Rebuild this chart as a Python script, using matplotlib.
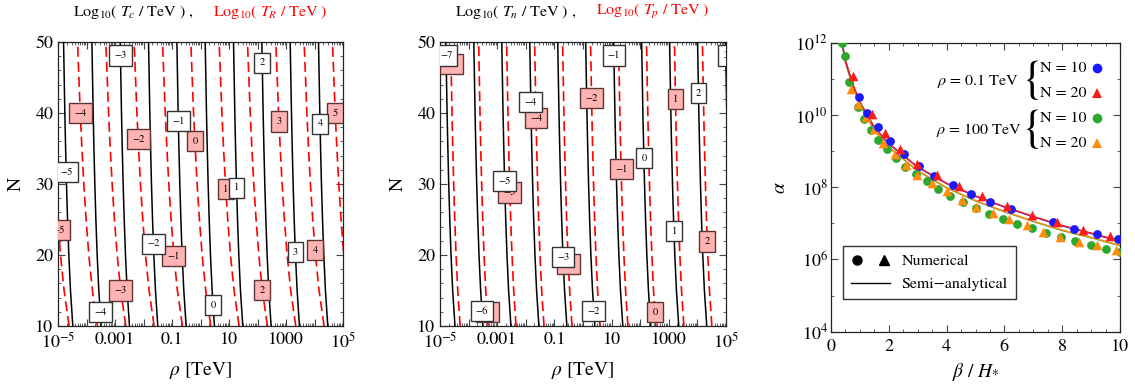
import numpy as np
import matplotlib
matplotlib.use("Agg")
import matplotlib.pyplot as plt
from matplotlib.ticker import FixedLocator, LogLocator, MultipleLocator, NullFormatter
from matplotlib.lines import Line2D
from matplotlib.legend_handler import HandlerTuple

plt.rcParams["font.family"] = "STIXGeneral"
plt.rcParams["mathtext.fontset"] = "stix"

# ---- contour panels: log10(rho) = slope * level + shift(N)
n_nodes = [10, 15, 20, 25, 30, 35, 40, 50]
tc_shift = [0.49, 0.408, 0.35, 0.305, 0.268, 0.237, 0.21, 0.165]
tr_shift = [0.36, 0.184, 0.058, -0.038, -0.118, -0.185, -0.243, -0.34]
tn_shift = [2.37, 2.289, 2.232, 2.188, 2.151, 2.121, 2.094, 2.05]
tp_shift = [2.55, 2.467, 2.408, 2.362, 2.325, 2.293, 2.266, 2.22]
slope_1 = 0.994
slope_2 = 0.978

tc_levels = list(range(-6, 6))
tr_levels = list(range(-6, 7))
tn_levels = list(range(-8, 4))
tp_levels = list(range(-8, 4))

# N at which each contour label sits
tc_label_n = {-5: 31.7, -4: 12.0, -3: 48.1, -2: 21.6, -1: 38.9, 0: 12.9,
              1: 29.5, 2: 47.1, 3: 20.4, 4: 38.5}
tr_label_n = {-5: 23.5, -4: 40.0, -3: 15.0, -2: 36.3, -1: 19.9, 0: 36.0,
              1: 29.3, 2: 15.1, 3: 38.8, 4: 20.7, 5: 40.0}
tn_label_n = {-7: 48.1, -6: 12.1, -5: 30.4, -4: 41.5, -3: 19.7, -2: 12.1,
              -1: 48.1, 0: 33.6, 1: 23.4, 2: 42.8, 3: 48.1}
tp_label_n = {-7: 46.9, -6: 12.0, -5: 28.8, -4: 39.3, -3: 18.7, -2: 42.1,
              -1: 32.1, 0: 12.0, 1: 42.0, 2: 21.9}

# ---- alpha vs beta/H panel (log10 alpha)
beta_b = [0.97, 1.26, 1.64, 2.04, 2.53, 3.06, 3.56, 4.21, 4.84, 5.50, 6.22, 7.67, 8.41, 9.19, 9.94]
la_b = [10.485, 10.053, 9.654, 9.266, 8.925, 8.593, 8.316, 8.066, 7.817, 7.60, 7.39, 7.033, 6.85, 6.70, 6.557]
beta_r = [0.75, 1.41, 1.87, 2.39, 2.99, 3.68, 4.43, 5.23, 6.08, 6.94, 7.81, 8.71, 9.65]
la_r = [11.086, 10.025, 9.50, 9.06, 8.64, 8.34, 8.02, 7.75, 7.47, 7.24, 7.03, 6.82, 6.66]
beta_g = [0.38, 0.48, 0.63, 0.94, 1.14, 1.38, 1.64, 1.93, 2.24, 2.56, 2.93, 3.33, 3.71,
          4.13, 4.58, 5.02, 5.48, 5.94, 6.45, 6.94, 7.44, 7.95, 8.44, 8.99, 9.52, 10.0]
la_g = [12.0, 11.64, 10.90, 10.21, 9.895, 9.59, 9.31, 9.06, 8.81, 8.57, 8.37, 8.16, 7.95,
        7.765, 7.58, 7.42, 7.26, 7.12, 6.99, 6.87, 6.73, 6.61, 6.52, 6.40, 6.29, 6.22]
beta_o = [0.68, 0.94, 1.21, 1.50, 1.81, 2.21, 2.58, 2.97, 3.48, 4.0, 4.52, 5.02, 5.60,
          6.17, 6.77, 7.34, 7.94, 8.59, 9.21, 9.86]
la_o = [10.72, 10.31, 9.94, 9.61, 9.22, 8.93, 8.62, 8.34, 8.13, 7.90, 7.65, 7.45, 7.28,
        7.12, 6.95, 6.76, 6.62, 6.47, 6.40, 6.25]

beta_line = [0.38, 0.5, 0.75, 1, 1.5, 2, 3, 4, 5, 6, 7, 8, 9, 10]
line_b = [12.0, 11.5, 10.85, 10.35, 9.65, 9.2, 8.55, 8.1, 7.75, 7.45, 7.18, 6.93, 6.72, 6.5]
line_r = [12.0, 11.51, 10.86, 10.36, 9.66, 9.21, 8.56, 8.11, 7.76, 7.46, 7.19, 6.94, 6.73, 6.51]
line_g = [12.0, 11.45, 10.8, 10.28, 9.57, 9.1, 8.45, 7.98, 7.62, 7.32, 7.05, 6.8, 6.6, 6.38]
line_o = [12.0, 11.46, 10.81, 10.29, 9.58, 9.11, 8.46, 7.99, 7.63, 7.33, 7.06, 6.81, 6.61, 6.39]

W, H = 1135, 387
fig = plt.figure(figsize=(W / 100, H / 100), dpi=100)
ax1 = fig.add_axes([58 / W, 1 - 326 / H, 285 / W, 284 / H])
ax2 = fig.add_axes([440 / W, 1 - 326 / H, 286 / W, 284 / H])
ax3 = fig.add_axes([831 / W, 1 - 331.7 / H, 289 / W, 289 / H])

tick_col = "#444444"


def level_text(k):
    return "\u2212" + str(-k) if k < 0 else str(k)


def contour_panel(ax, slope, black_shift, red_shift, black_levels, red_levels, black_lab, red_lab):
    for k in red_levels:
        x = 10 ** (slope * k + np.array(red_shift))
        ax.plot(x, n_nodes, color="red", lw=1.2, ls=(0, (6, 3)), zorder=2)
    for k in black_levels:
        x = 10 ** (slope * k + np.array(black_shift))
        ax.plot(x, n_nodes, color="black", lw=1.1, zorder=3)
    for k, n in red_lab.items():
        x = 10 ** (slope * k + np.interp(n, n_nodes, red_shift))
        ax.text(x, n, level_text(k), ha="center", va="center", fontsize=7.5, zorder=5,
                clip_on=True,
                bbox=dict(boxstyle="square,pad=0.5", fc="#ffb3b3", ec="#5c3434", lw=1.0))
    for k, n in black_lab.items():
        x = 10 ** (slope * k + np.interp(n, n_nodes, black_shift))
        ax.text(x, n, level_text(k), ha="center", va="center", fontsize=7.5, zorder=6,
                clip_on=True,
                bbox=dict(boxstyle="square,pad=0.5", fc="white", ec="#333333", lw=1.0))

    ax.set_xscale("log")
    ax.set_xlim(1e-5, 1e5)
    ax.set_ylim(10, 50)
    ticks = 10.0 ** np.arange(-5, 6)
    names = {-5: r"$10^{-5}$", -3: "0.001", -1: "0.1", 1: "10", 3: "1000", 5: r"$10^{5}$"}
    ax.xaxis.set_major_locator(FixedLocator(ticks))
    ax.set_xticklabels([names.get(e, "") for e in range(-5, 6)])
    ax.xaxis.set_minor_locator(LogLocator(base=10, subs=np.arange(2, 10), numticks=100))
    ax.xaxis.set_minor_formatter(NullFormatter())
    ax.yaxis.set_major_locator(MultipleLocator(10))
    ax.yaxis.set_minor_locator(MultipleLocator(2))
    ax.tick_params(which="both", direction="in", top=True, right=True, color=tick_col,
                   labelsize=13)
    ax.tick_params(which="major", length=5, width=0.8)
    ax.tick_params(which="minor", length=2.5, width=0.6)
    ax.tick_params(axis="x", pad=4.5)
    ax.tick_params(axis="y", pad=3.5)
    ax.set_xlabel(r"$\rho$ [TeV]", fontsize=14)
    ax.xaxis.set_label_coords(0.5, -0.155)
    ax.xaxis.label.set_verticalalignment("center")
    ax.set_ylabel("N", fontsize=14)
    ax.yaxis.set_label_coords(-0.145, 0.5)
    ax.yaxis.label.set_verticalalignment("center")
    for s in ax.spines.values():
        s.set_color("#222222")
        s.set_linewidth(0.9)


contour_panel(ax1, slope_1, tc_shift, tr_shift, tc_levels, tr_levels, tc_label_n, tr_label_n)
contour_panel(ax2, slope_2, tn_shift, tp_shift, tn_levels, tp_levels, tn_label_n, tp_label_n)

ty = 1 - 12 / H
tfs = 11.5
fig.text(73 / W, ty, r"$\mathrm{Log}_{10}(\ T_c\ /\ \mathrm{TeV}\ )$ ,", fontsize=tfs, va="center")
fig.text(213 / W, ty, r"$\mathrm{Log}_{10}(\ T_R\ /\ \mathrm{TeV}\ )$", fontsize=tfs, va="center",
         color="red")
fig.text(455 / W, ty, r"$\mathrm{Log}_{10}(\ T_n\ /\ \mathrm{TeV}\ )$ ,", fontsize=tfs, va="center")
fig.text(596 / W, ty, r"$\mathrm{Log}_{10}(\ T_p\ /\ \mathrm{TeV}\ )$", fontsize=tfs, va="center",
         color="red")

# ---- third panel
c_blue, c_red, c_green, c_orange = "#1a1aff", "#ff1a1a", "#2da82d", "#ff8c0a"
ax3.plot(beta_line, 10 ** np.array(line_g), color=c_green, lw=1.0, zorder=2)
ax3.plot(beta_line, 10 ** np.array(line_o), color=c_orange, lw=1.0, zorder=2)
ax3.plot(beta_line, 10 ** np.array(line_b), color=c_blue, lw=1.0, zorder=2)
ax3.plot(beta_line, 10 ** np.array(line_r), color=c_red, lw=1.0, zorder=2)
ax3.scatter(beta_g, 10 ** np.array(la_g), s=40, color=c_green, marker="o", lw=0, zorder=3)
ax3.scatter(beta_o, 10 ** np.array(la_o), s=48, color=c_orange, marker="^", lw=0, zorder=3)
ax3.scatter(beta_b, 10 ** np.array(la_b), s=40, color=c_blue, marker="o", lw=0, zorder=4)
ax3.scatter(beta_r, 10 ** np.array(la_r), s=48, color=c_red, marker="^", lw=0, zorder=4)

ax3.set_yscale("log")
ax3.set_xlim(0, 10)
ax3.set_ylim(1e4, 1e12)
ax3.yaxis.set_major_locator(FixedLocator(10.0 ** np.arange(4, 13, 2)))
ax3.set_yticklabels([r"$10^{%d}$" % e for e in range(4, 13, 2)])
ax3.yaxis.set_minor_locator(FixedLocator(10.0 ** np.arange(5, 12, 2)))
ax3.yaxis.set_minor_formatter(NullFormatter())
ax3.xaxis.set_major_locator(MultipleLocator(2))
ax3.xaxis.set_minor_locator(MultipleLocator(0.5))
ax3.tick_params(which="both", direction="in", top=True, right=True, color=tick_col, labelsize=13)
ax3.tick_params(which="major", length=5, width=0.8)
ax3.tick_params(which="minor", length=2.5, width=0.6)
ax3.tick_params(axis="x", pad=5)
ax3.tick_params(axis="y", pad=2.2)
for s in ax3.spines.values():
    s.set_color("#222222")
    s.set_linewidth(0.9)
ax3.set_xlabel(r"$\beta\ /\ H_{*}$", fontsize=14)
ax3.xaxis.set_label_coords(0.5, -0.139)
ax3.xaxis.label.set_verticalalignment("center")
ax3.set_ylabel(r"$\alpha$", fontsize=14)
ax3.yaxis.set_label_coords(-0.176, 0.497)
ax3.yaxis.label.set_verticalalignment("center")

# series key, top right
fs = 11.5
ax3.text(0.6505, 0.866, r"$\rho$ = 0.1 TeV", transform=ax3.transAxes, ha="right", va="center", fontsize=fs)
ax3.text(0.661, 0.698, r"$\rho$ = 100 TeV", transform=ax3.transAxes, ha="right", va="center", fontsize=fs)
for yb in (0.870, 0.700):
    ax3.text(0.697, yb, "{", transform=ax3.transAxes, ha="center", va="center", fontsize=33)
key = [("N = 10", 0.913, c_blue, "o"), ("N = 20", 0.826, c_red, "^"),
       ("N = 10", 0.740, c_green, "o"), ("N = 20", 0.653, c_orange, "^")]
for lab, yk, col, mk in key:
    ax3.text(0.723, yk, lab, transform=ax3.transAxes, ha="left", va="center", fontsize=fs)
    ax3.plot([0.920], [yk], marker=mk, color=col, ms=7 if mk == "o" else 7.5, mew=0,
             transform=ax3.transAxes, clip_on=False)

h_num = (Line2D([], [], marker="o", color="black", ls="none", ms=6.5),
         Line2D([], [], marker="^", color="black", ls="none", ms=7))
h_semi = Line2D([], [], color="black", lw=1.0)
leg = ax3.legend([h_num, h_semi], ["Numerical", "Semi\u2212analytical"],
                 handler_map={tuple: HandlerTuple(ndivide=None, pad=1.0)},
                 loc="lower left", bbox_to_anchor=(0.04, 0.112), borderaxespad=0,
                 fontsize=fs, frameon=True, fancybox=False, edgecolor="#333333",
                 framealpha=1, handlelength=2.5, handletextpad=0.7, labelspacing=0.55,
                 borderpad=0.5)
leg.get_frame().set_linewidth(1.0)

fig.savefig("out.png", dpi=100)
